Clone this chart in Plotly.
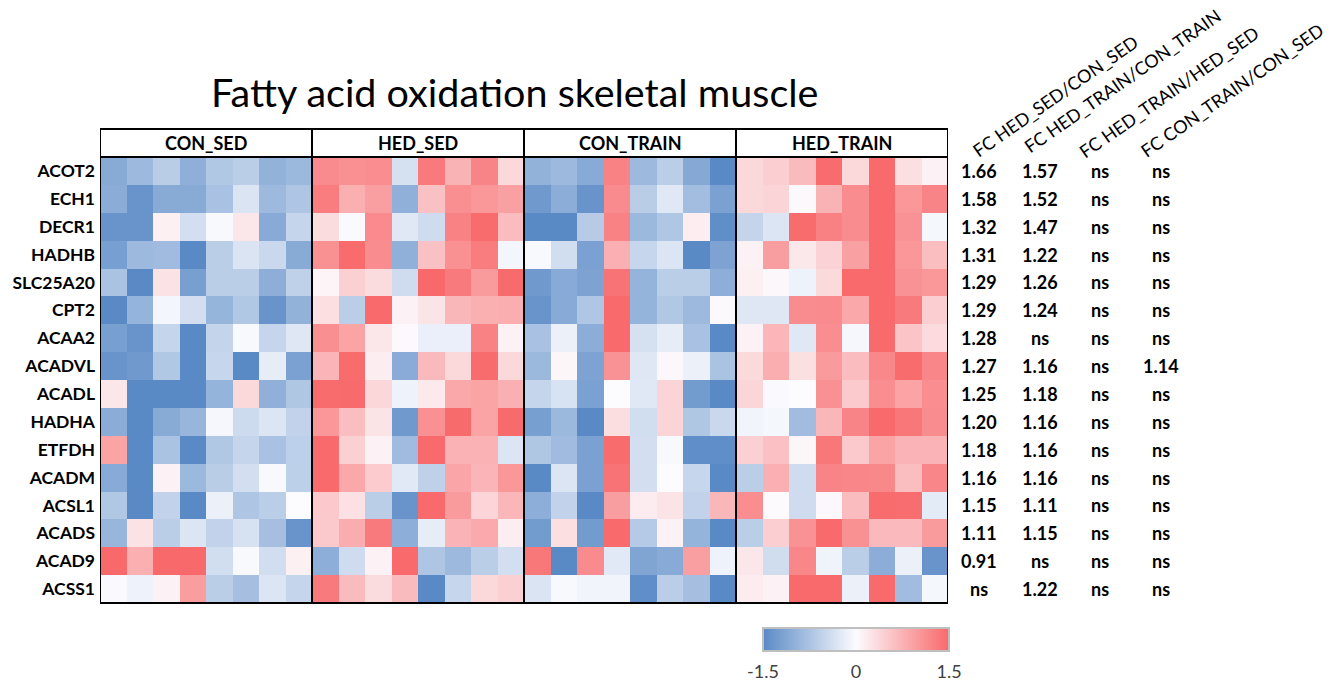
import plotly.graph_objects as go

W, H = 1341, 687

genes = ["ACOT2", "ECH1", "DECR1", "HADHB", "SLC25A20", "CPT2", "ACAA2", "ACADVL",
         "ACADL", "HADHA", "ETFDH", "ACADM", "ACSL1", "ACADS", "ACAD9", "ACSS1"]
groups = ["CON_SED", "HED_SED", "CON_TRAIN", "HED_TRAIN"]

con_sed = [
    [-1.07, -0.88, -0.62, -1.01, -0.69, -0.60, -0.97, -0.90],
    [-1.05, -1.37, -1.07, -1.07, -0.77, -0.31, -0.88, -0.72],
    [-1.37, -1.37, 0.12, -0.38, -0.04, 0.22, -1.08, -0.51],
    [-1.22, -0.88, -0.85, -1.50, -0.60, -0.31, -0.47, -1.07],
    [-0.75, -1.50, 0.27, -1.23, -0.60, -0.60, -1.02, -0.57],
    [-1.50, -0.95, -0.08, -0.38, -0.94, -0.69, -1.37, -0.97],
    [-1.23, -1.37, -0.51, -1.50, -0.52, -0.04, -0.51, -0.27],
    [-1.37, -1.30, -0.69, -1.50, -0.50, -1.50, -0.20, -1.20],
    [0.22, -1.50, -1.50, -1.50, -0.95, 0.37, -1.00, -0.70],
    [-1.05, -1.50, -1.07, -0.93, -0.06, -0.44, -0.30, -0.55],
    [0.90, -1.50, -0.75, -1.50, -0.69, -0.51, -0.77, -0.58],
    [-1.08, -1.50, 0.10, -0.90, -0.62, -0.38, -0.04, -0.58],
    [-0.69, -1.50, -0.55, -1.50, -0.15, -0.72, -0.60, 0.00],
    [-0.93, 0.26, -0.60, -0.30, -0.55, -0.35, -0.80, -1.37],
    [1.50, 0.79, 1.50, 1.50, -0.40, -0.04, -0.40, 0.12],
    [-0.02, -0.13, 0.10, 0.97, -0.60, -0.80, -0.30, -0.51],
]
hed_sed = [
    [1.16, 1.10, 1.13, -0.36, 1.33, 0.75, 1.22, 0.37],
    [1.31, 0.79, 0.95, -1.00, 0.60, 1.11, 1.03, 0.94],
    [0.33, -0.03, 1.16, -0.26, -0.42, 1.24, 1.47, 0.65],
    [1.10, 1.47, 1.14, -1.00, 0.60, 1.10, 1.30, -0.08],
    [0.08, 0.45, 0.33, -0.42, 1.50, 1.33, 1.00, 1.48],
    [0.30, -0.60, 1.49, 0.11, 0.25, 0.70, 0.79, 0.80],
    [1.11, 0.90, 0.22, 0.04, -0.17, -0.17, 1.24, 0.10],
    [0.72, 1.47, 0.15, -1.06, 0.67, 0.37, 1.47, 0.37],
    [1.47, 1.48, 0.38, -0.13, 0.19, 0.86, 0.90, 0.78],
    [1.03, 0.63, 0.25, -1.30, 1.10, 1.48, 0.90, 1.48],
    [1.49, 0.45, 0.11, -0.85, 1.49, 0.76, 0.76, -0.30],
    [1.49, 0.86, 0.50, -0.25, -0.57, 0.88, 0.72, 1.03],
    [0.53, 0.28, -0.60, -1.37, 1.49, 1.00, 0.40, 0.71],
    [0.52, 0.81, 1.33, -1.03, -0.20, 0.73, 0.84, 0.15],
    [-1.03, -0.42, 0.11, 1.49, -0.72, -0.88, -0.60, -0.38],
    [1.33, 0.66, 0.33, 0.66, -1.50, -0.50, 0.36, 0.45],
]
con_train = [
    [-0.98, -0.88, -1.08, 1.24, -0.88, -0.60, -1.10, -1.50],
    [-1.30, -1.04, -1.37, 1.16, -0.62, -0.26, -0.83, -1.20],
    [-1.50, -1.50, -0.64, 1.24, -0.90, -0.71, 0.15, -1.45],
    [-0.04, -0.40, -1.20, 0.78, -0.50, -0.30, -1.50, -1.17],
    [-1.30, -1.08, -1.17, 1.40, -0.95, -0.60, -0.60, -1.03],
    [-1.37, -1.08, -0.71, 1.49, -0.95, -0.69, -0.88, 0.03],
    [-0.77, -0.15, -1.04, 1.49, -0.36, -0.20, -0.77, -1.50],
    [-0.90, 0.06, -1.17, 1.08, -0.27, 0.05, -0.16, -0.75],
    [-0.51, -0.34, -1.20, 0.00, -0.26, 0.41, -1.28, -1.50],
    [-1.23, -0.90, -1.50, 0.31, -0.40, 0.41, -0.70, -0.47],
    [-0.70, -0.85, -1.20, 1.47, -0.38, -0.04, -1.45, -1.45],
    [-1.50, -0.30, -1.20, 1.40, -0.38, 0.00, -0.50, -1.50],
    [-1.03, -0.55, -1.50, 0.96, 0.16, 0.25, -0.55, 0.70],
    [-1.28, 0.30, -1.28, 1.49, -0.66, 0.11, -0.95, -1.50],
    [1.36, -1.50, 1.15, -0.25, -1.15, -1.08, 0.95, -0.13],
    [-0.31, -0.04, -0.10, -0.10, -1.45, -0.60, -0.80, -1.50],
]
hed_train = [
    [0.37, 0.47, 0.66, 1.47, 0.37, 1.49, 0.30, 0.11],
    [0.37, 0.41, 0.03, 0.75, 1.14, 1.49, 1.03, 1.22],
    [-0.53, -0.30, 1.47, 1.26, 1.14, 1.49, 1.08, -0.07],
    [0.10, 0.96, 0.20, 0.42, 0.94, 1.49, 1.03, 0.63],
    [0.12, 0.05, -0.13, 0.35, 1.49, 1.49, 1.08, 1.03],
    [-0.27, -0.27, 1.14, 1.15, 0.86, 1.49, 1.33, 0.47],
    [0.10, 0.71, -0.26, 1.13, -0.06, 1.49, 0.56, 0.34],
    [0.35, 0.80, 0.29, 1.00, 0.65, 1.18, 1.47, 1.20],
    [0.39, -0.02, 0.00, 1.10, 0.51, 1.13, 0.90, 1.13],
    [-0.10, -0.07, -0.84, 0.70, 1.22, 1.49, 1.36, 1.14],
    [0.45, 0.61, 0.06, 1.36, 0.52, 0.90, 0.73, 0.73],
    [-0.60, 0.78, -0.42, 1.22, 1.20, 1.18, 0.63, 1.20],
    [1.13, 0.02, -0.42, 0.05, 0.65, 1.47, 1.46, -0.23],
    [-0.60, 0.46, 1.08, 1.49, 1.10, 0.67, 0.67, 1.00],
    [0.22, -0.41, 1.20, -0.12, -0.60, -1.04, -0.16, -1.37],
    [0.16, 0.10, 1.49, 1.49, -0.15, 1.49, -0.84, -0.07],
]

fc_titles = ["FC HED_SED/CON_SED", "FC HED_TRAIN/CON_TRAIN", "FC HED_TRAIN/HED_SED", "FC CON_TRAIN/CON_SED"]
fc_hed_sed_con_sed = ["1.66", "1.58", "1.32", "1.31", "1.29", "1.29", "1.28", "1.27",
                      "1.25", "1.20", "1.18", "1.16", "1.15", "1.11", "0.91", "ns"]
fc_hed_train_con_train = ["1.57", "1.52", "1.47", "1.22", "1.26", "1.24", "ns", "1.16",
                          "1.18", "1.16", "1.16", "1.16", "1.11", "1.15", "ns", "1.22"]
fc_hed_train_hed_sed = ["ns"] * 16
fc_con_train_con_sed = ["ns", "ns", "ns", "ns", "ns", "ns", "ns", "1.14",
                        "ns", "ns", "ns", "ns", "ns", "ns", "ns", "ns"]

colorbar_ticks = [-1.5, 0, 1.5]
colorbar_ticktext = ["-1.5", "0", "1.5"]

n_per = len(con_sed[0])
z = [con_sed[i] + hed_sed[i] + con_train[i] + hed_train[i] for i in range(len(genes))]
ncol = len(z[0])
xcols = list(range(ncol))

FONT = "Lato"

def px(x):
    return x / W

def py(y):
    return 1 - y / H

fig = go.Figure()
fig.add_trace(go.Heatmap(
    z=z, x=xcols, y=genes,
    zmin=-1.5, zmax=1.5,
    colorscale=[[0, "#5A8AC6"], [0.5, "#FCFCFF"], [1, "#F8696B"]],
    xgap=0, ygap=0,
    colorbar=dict(
        orientation="h",
        x=px(856), xanchor="center",
        y=py(628), yanchor="top",
        len=186, lenmode="pixels",
        thickness=23, thicknessmode="pixels",
        tickvals=colorbar_ticks, ticktext=colorbar_ticktext,
        ticks="outside", ticklen=5, tickcolor="rgba(0,0,0,0)",
        tickfont=dict(family=FONT, size=18, color="#404040"),
        outlinecolor="#BFBFBF", outlinewidth=2,
        xpad=0, ypad=0,
    ),
    hoverinfo="skip",
))

top_hdr, bot_hdr, bottom = 129, 157, 603
fig.update_layout(
    width=W, height=H,
    margin=dict(l=0, r=0, t=0, b=0),
    paper_bgcolor="white", plot_bgcolor="white",
    font=dict(family=FONT, color="black"),
    xaxis=dict(domain=[px(100), px(948)], range=[-0.5, ncol - 0.5],
               showticklabels=False, showgrid=False, zeroline=False, ticks=""),
    yaxis=dict(domain=[py(bottom), py(bot_hdr)], autorange="reversed",
               tickfont=dict(family=FONT, size=17.5, weight="bold", color="black"),
               ticks="", showgrid=False, zeroline=False, ticklabelstandoff=4),
)

# outline and header box
line = dict(color="black", width=2)
fig.add_shape(type="rect", xref="x", yref="paper", x0=-0.5, x1=ncol - 0.5,
              y0=py(bottom), y1=py(top_hdr), line=line)
fig.add_shape(type="line", xref="x", yref="paper", x0=-0.5, x1=ncol - 0.5,
              y0=py(bot_hdr), y1=py(bot_hdr), line=line)
for g in range(1, len(groups)):
    xb = g * n_per - 0.5
    fig.add_shape(type="line", xref="x", yref="paper", x0=xb, x1=xb,
                  y0=py(bottom), y1=py(top_hdr), line=line)
for g, name in enumerate(groups):
    fig.add_annotation(x=g * n_per + (n_per - 1) / 2, xref="x", y=py(143), yref="paper",
                       xanchor="center", yanchor="middle",
                       text=f"<b>{name}</b>", showarrow=False,
                       font=dict(family=FONT, size=18, color="black"))

# title
fig.add_annotation(x=px(514), y=py(92), xref="paper", yref="paper",
                   xanchor="center", yanchor="middle",
                   text="Fatty acid oxidation skeletal muscle", showarrow=False,
                   font=dict(family=FONT, size=39.5, color="black"))

# FC columns
fc_cols = [fc_hed_sed_con_sed, fc_hed_train_con_train, fc_hed_train_hed_sed, fc_con_train_con_sed]
fc_x = [979, 1040, 1100, 1161]
for vals, xc in zip(fc_cols, fc_x):
    for gname, v in zip(genes, vals):
        fig.add_annotation(x=px(xc), xref="paper", y=gname, yref="y",
                           xanchor="center", yanchor="middle",
                           text=f"<b>{v}</b>", showarrow=False,
                           font=dict(family=FONT, size=18, color="black"))

title_centers = [(1055, 96), (1122, 81), (1169, 92), (1232, 90)]
for t, (cx, cy) in zip(fc_titles, title_centers):
    fig.add_annotation(x=px(cx), y=py(cy), xref="paper", yref="paper",
                       xanchor="center", yanchor="middle",
                       text=t, showarrow=False, textangle=-35,
                       font=dict(family=FONT, size=18, color="black"))

fig.write_html("out.html")
